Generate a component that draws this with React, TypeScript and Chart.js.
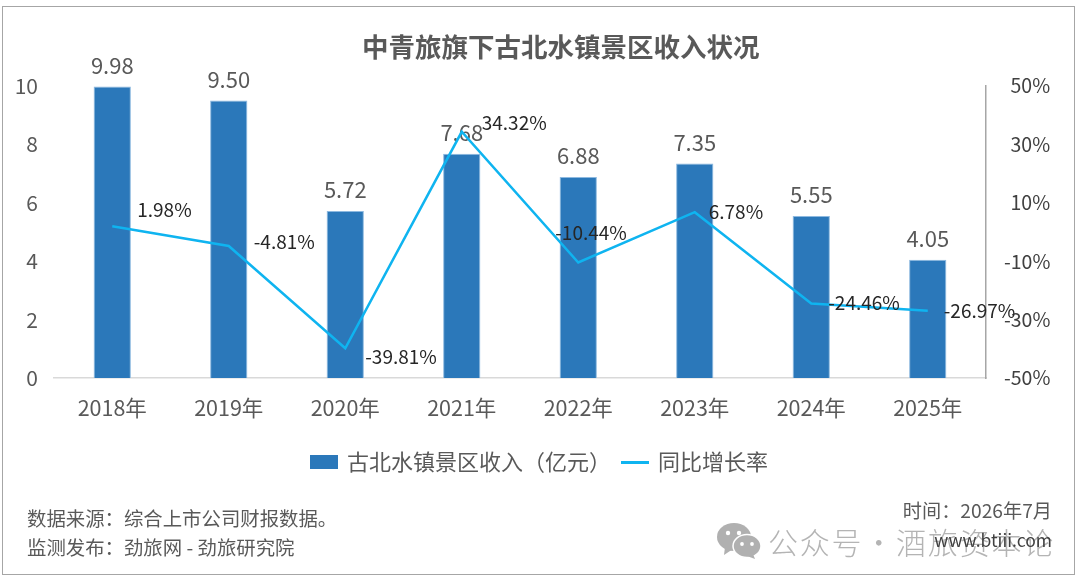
import React, { useEffect, useRef } from "react";
import { Chart, registerables } from "chart.js";

Chart.register(...registerables);

const years = ["2018年", "2019年", "2020年", "2021年", "2022年", "2023年", "2024年", "2025年"];
const revenue = [9.98, 9.5, 5.72, 7.68, 6.88, 7.35, 5.55, 4.05];
const growth = [1.98, -4.81, -39.81, 34.32, -10.44, 6.78, -24.46, -26.97];

// label offset from its point: left edge, vertical centre
const growthLabelDx = [25, 25, 20, 20, -23, 14, 17, 16];
const growthLabelDy = [-16, -4, 9, -9, -30, 0, -1, 0];

const FONT = '"Noto Sans CJK SC", "Noto Sans", sans-serif';
const BAR_COLOR = "#2B78BA";
const LINE_COLOR = "#0FB4F0";
const TEXT_COLOR = "#595959";

function swatch(w: number, h: number, color: string) {
  const c = document.createElement("canvas");
  c.width = w;
  c.height = h;
  const ctx = c.getContext("2d");
  if (ctx) {
    ctx.fillStyle = color;
    ctx.fillRect(0, 0, w, h);
  }
  return c;
}

const valueLabels = {
  id: "valueLabels",
  // bar labels go under the line, as in the original
  afterDatasetDraw(chart: any, args: any) {
    if (args.index !== 0) return;
    const { ctx } = chart;
    ctx.save();
    ctx.font = `22px ${FONT}`;
    ctx.fillStyle = TEXT_COLOR;
    ctx.textAlign = "center";
    ctx.textBaseline = "middle";
    chart.getDatasetMeta(0).data.forEach((bar: any, i: number) => {
      ctx.fillText(revenue[i].toFixed(2), bar.x, bar.y - 21);
    });
    ctx.restore();
  },
  afterDatasetsDraw(chart: any) {
    const { ctx } = chart;
    ctx.save();
    ctx.font = `19px ${FONT}`;
    ctx.fillStyle = "#262626";
    ctx.textAlign = "left";
    ctx.textBaseline = "middle";
    chart.getDatasetMeta(1).data.forEach((pt: any, i: number) => {
      ctx.fillText(growth[i].toFixed(2) + "%", pt.x + growthLabelDx[i], pt.y + growthLabelDy[i]);
    });
    ctx.restore();
  },
};

const App: React.FC = () => {
  const chartRef = useRef<HTMLCanvasElement>(null);

  useEffect(() => {
    if (!chartRef.current) return;
    const chart = new Chart(chartRef.current, {
      type: "bar",
      data: {
        labels: years,
        datasets: [
          {
            type: "bar",
            label: "古北水镇景区收入（亿元）",
            data: revenue,
            yAxisID: "y",
            backgroundColor: BAR_COLOR,
            borderColor: "#8DB9E0",
            borderWidth: 1,
            categoryPercentage: 1,
            barPercentage: 0.32,
            order: 1,
          },
          {
            type: "line",
            label: "同比增长率",
            data: growth,
            yAxisID: "y1",
            borderColor: LINE_COLOR,
            borderWidth: 2.5,
            pointRadius: 0,
            tension: 0,
            order: 0,
          },
        ],
      } as any,
      options: {
        responsive: false,
        animation: false,
        devicePixelRatio: 1,
        layout: { padding: { top: 86, bottom: 101, left: 0, right: 0 } },
        plugins: {
          title: { display: false },
          tooltip: { enabled: false },
          legend: {
            position: "bottom",
            labels: {
              usePointStyle: true,
              pointStyleWidth: 24,
              padding: 12,
              color: TEXT_COLOR,
              font: { size: 22, family: FONT },
              generateLabels: () => [
                { text: "古北水镇景区收入（亿元）", pointStyle: swatch(28, 14, BAR_COLOR), fontColor: TEXT_COLOR, datasetIndex: 0 },
                { text: "同比增长率", pointStyle: swatch(28, 3, LINE_COLOR), fontColor: TEXT_COLOR, datasetIndex: 1 },
              ],
            },
          },
        },
        scales: {
          x: {
            grid: { display: false, drawTicks: false },
            border: { color: "#D9D9D9", width: 1.5 },
            ticks: { color: TEXT_COLOR, font: { size: 21.5, family: FONT }, padding: 17, maxRotation: 0, autoSkip: false },
            afterFit: (s: any) => { s.height = 61; },
          },
          y: {
            position: "left",
            min: 0,
            max: 10,
            grid: { display: false, drawTicks: false },
            border: { display: false },
            ticks: { stepSize: 2, color: TEXT_COLOR, font: { size: 21, family: FONT }, padding: 16 },
            afterFit: (s: any) => { s.width = 54; },
          },
          y1: {
            position: "right",
            min: -50,
            max: 50,
            grid: { display: false, drawTicks: false },
            border: { color: "#A6A6A6", width: 1.5 },
            ticks: {
              stepSize: 20,
              color: "#404040",
              font: { size: 19.5, family: FONT },
              padding: 18,
              // a three-per-em space stands in for the minus so the column lines up on the right
              callback: (v: any) => (v < 0 ? "" : "\u2004") + v + "%",
            },
            afterFit: (s: any) => { s.width = 94; },
          },
        },
      } as any,
      plugins: [valueLabels],
    });
    return () => chart.destroy();
  }, []);

  const text = (style: React.CSSProperties): React.CSSProperties => ({
    position: "absolute",
    whiteSpace: "nowrap",
    fontFamily: FONT,
    color: TEXT_COLOR,
    lineHeight: 1,
    ...style,
  });

  return (
    <div style={{ position: "absolute", left: 0, top: 0, width: 1080, height: 584, overflow: "hidden", background: "#fff" }}>
      <div style={{ position: "absolute", left: 2, top: 6, width: 1073, height: 569, border: "1.5px solid #A6A6A6", boxSizing: "border-box" }} />
      <canvas ref={chartRef} width={1080} height={584} style={{ position: "absolute", left: 0, top: 0 }} />
      <div style={text({ left: 362, top: 33, fontSize: 26.5, fontWeight: 700 })}>中青旅旗下古北水镇景区收入状况</div>
      <div style={text({ left: 27, top: 508, fontSize: 19.4 })}>数据来源：综合上市公司财报数据。</div>
      <div style={text({ left: 27, top: 537, fontSize: 19.4 })}>监测发布：劲旅网 - 劲旅研究院</div>
      <div style={text({ right: 28, top: 501, fontSize: 19.2 })}>时间：2026年7月</div>
      <svg width="44" height="36" viewBox="0 0 44 36" style={{ position: "absolute", left: 717, top: 523 }}>
        <ellipse cx="17" cy="14" rx="17" ry="14" fill="#B0B0B0" />
        <path d="M8 24 L7 32 L16 26 Z" fill="#B0B0B0" />
        <ellipse cx="30" cy="23" rx="14" ry="11.5" fill="#B0B0B0" stroke="#fff" strokeWidth="1.5" />
        <path d="M36 31 L38 36 L30 33 Z" fill="#B0B0B0" />
        <circle cx="11" cy="10" r="2.2" fill="#fff" />
        <circle cx="22" cy="10" r="2.2" fill="#fff" />
        <circle cx="25" cy="21" r="1.9" fill="#fff" />
        <circle cx="35" cy="21" r="1.9" fill="#fff" />
      </svg>
      <div style={text({ left: 768, top: 526, fontSize: 30, color: "#B4B4B4", letterSpacing: 1.8, wordSpacing: -8, fontWeight: 300 })}>公众号 · 酒旅资本论</div>
      <div style={text({ right: 28, top: 531, fontSize: 17.5, color: "#404040" })}>www.btiii.com</div>
    </div>
  );
};

export default App;
